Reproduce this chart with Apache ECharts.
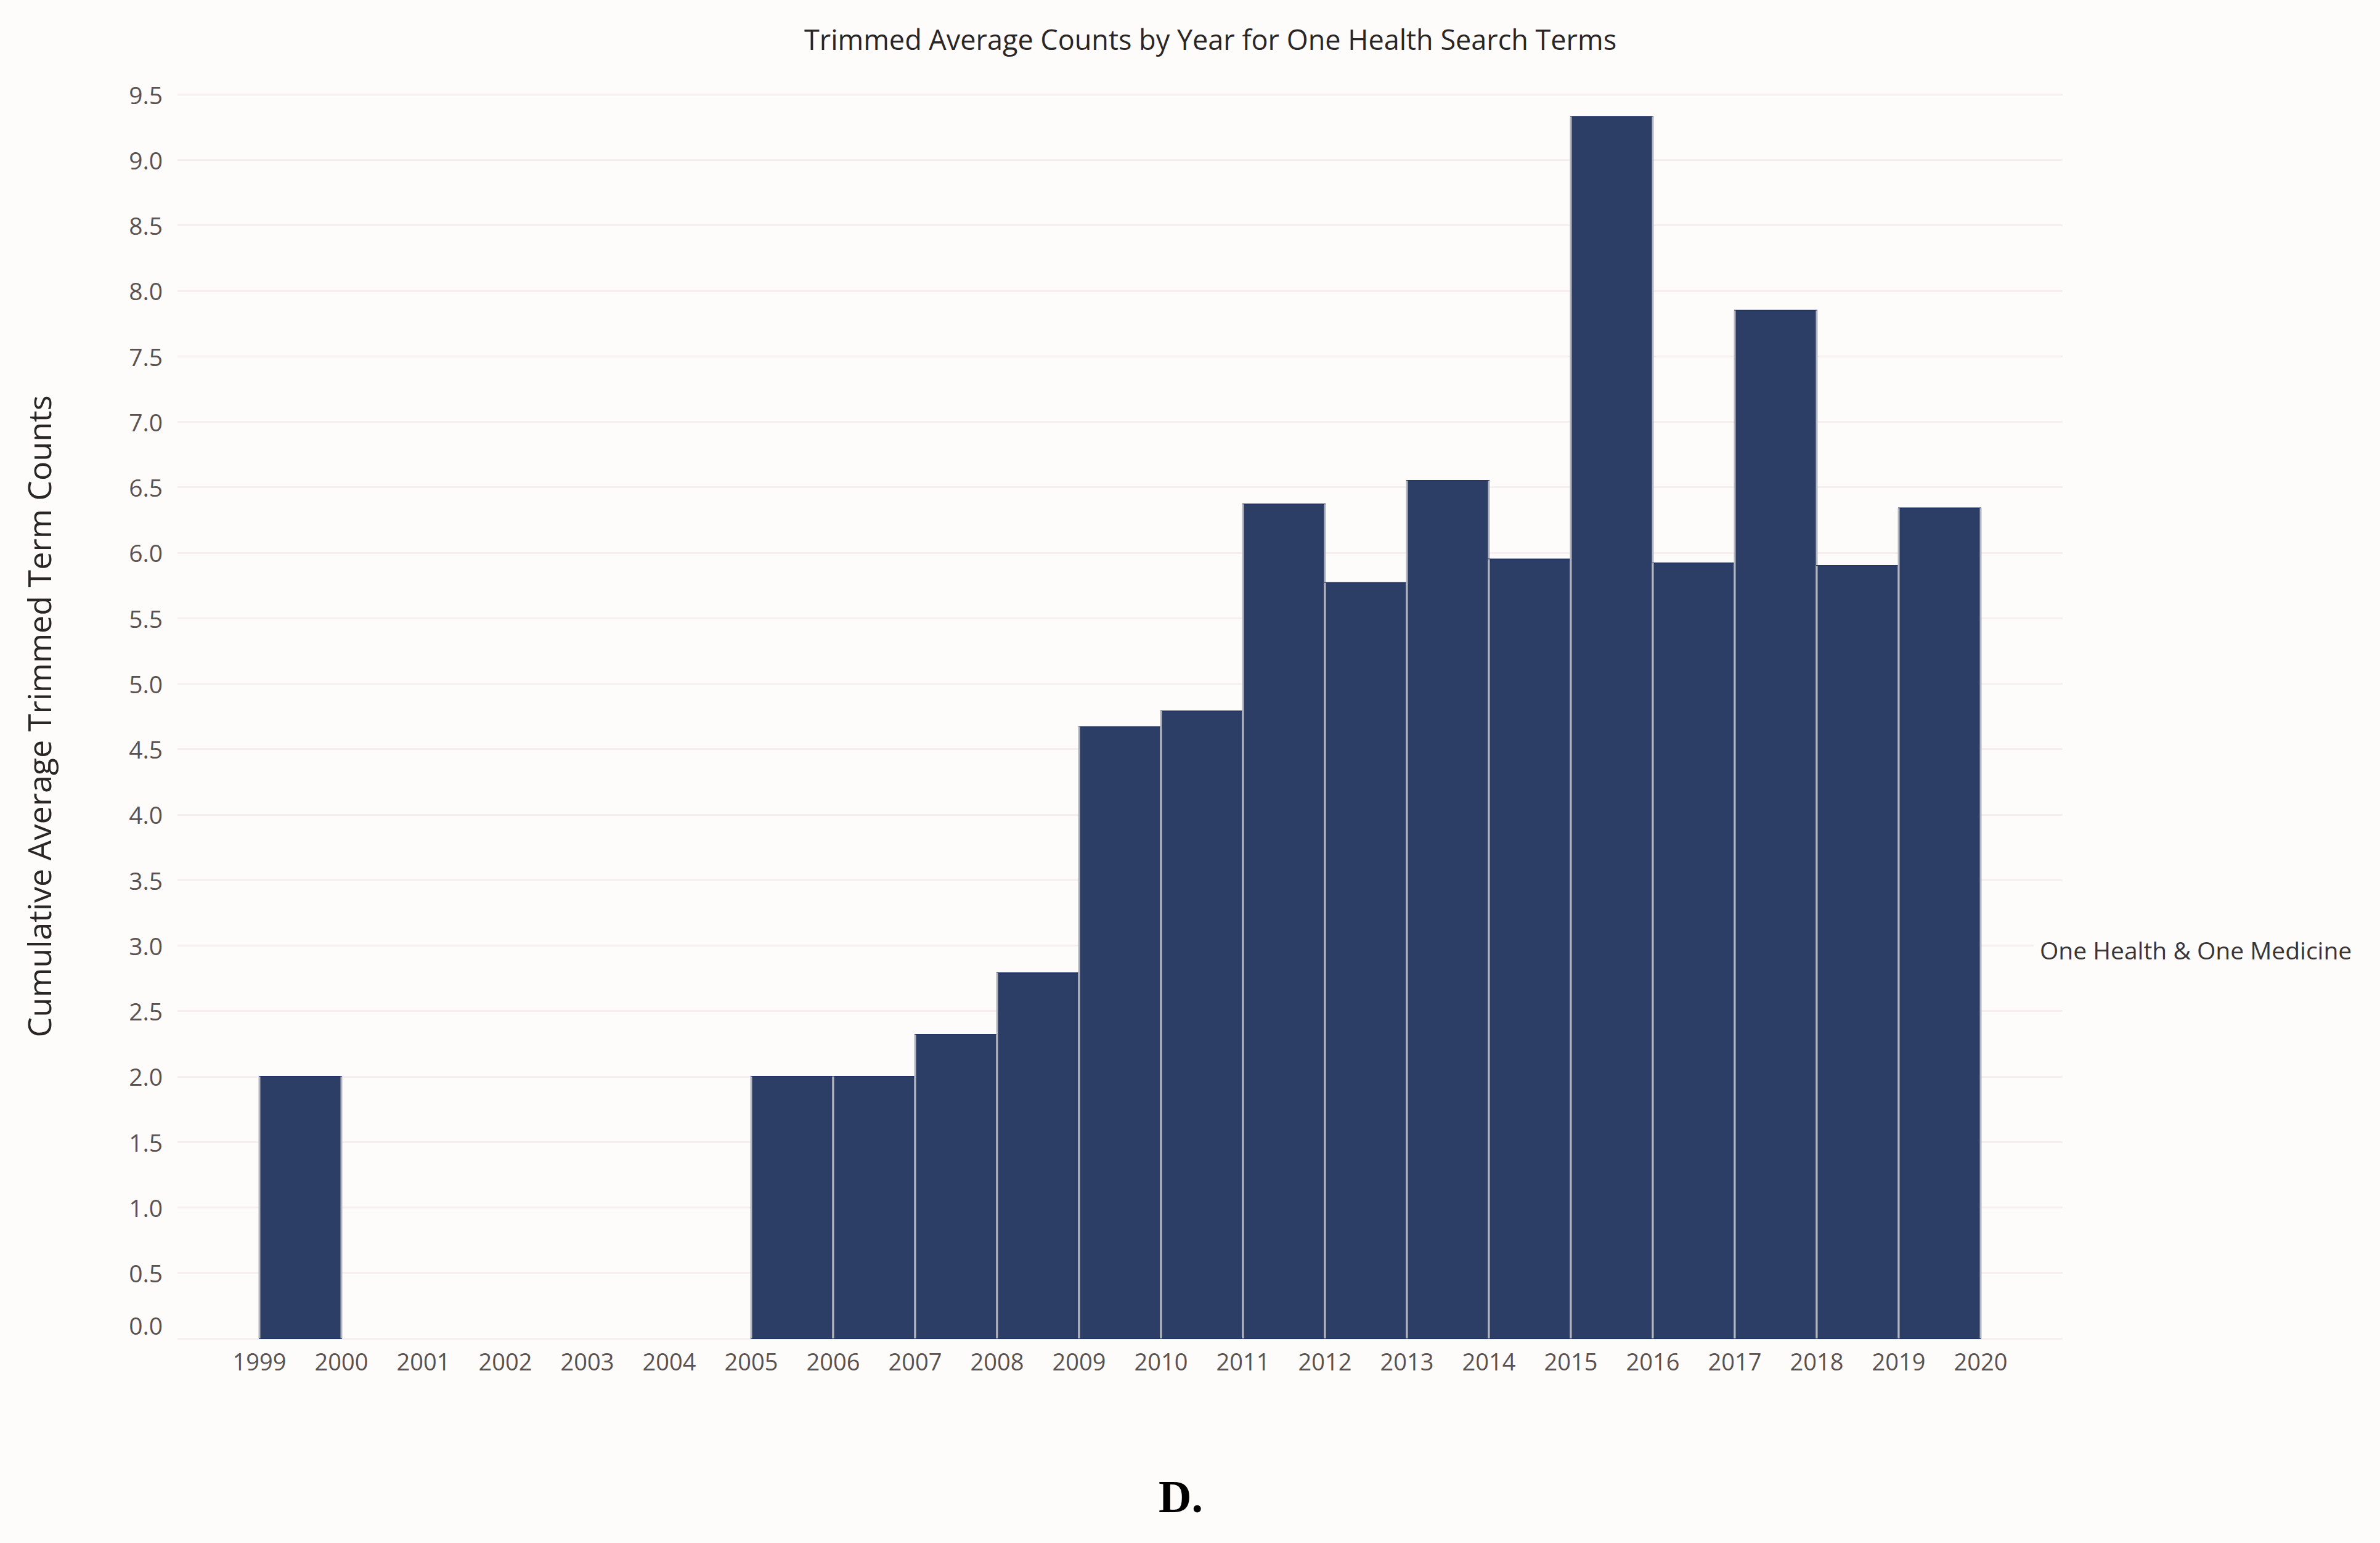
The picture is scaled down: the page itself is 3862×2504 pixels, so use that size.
<!DOCTYPE html>
<html>
<head>
<meta charset="utf-8">
<script src="https://cdn.jsdelivr.net/npm/echarts@6/dist/echarts.min.js"></script>
<style>
html,body{margin:0;padding:0;background:#fdfcfb;}
#chart{width:3862px;height:2504px;}
</style>
</head>
<body>
<div id="chart"></div>
<script>
// ---- data ----
const years  = [1999, 2005, 2006, 2007, 2008, 2009, 2010, 2011, 2012, 2013, 2014, 2015, 2016, 2017, 2018, 2019];
const values = [2.0, 2.0, 2.0, 2.32, 2.79, 4.67, 4.79, 6.37, 5.77, 6.55, 5.95, 9.33, 5.92, 7.85, 5.90, 6.34];
const tickYears = [1999, 2000, 2001, 2002, 2003, 2004, 2005, 2006, 2007, 2008, 2009, 2010, 2011, 2012, 2013, 2014, 2015, 2016, 2017, 2018, 2019, 2020];
const titleText = 'Trimmed Average Counts by Year for One Health Search Terms';
const yTitle = 'Cumulative Average Trimmed Term Counts';
const seriesLabel = 'One Health & One Medicine';
const caption = 'D.';

const chart = echarts.init(document.getElementById('chart'), null, {renderer: 'svg'});

const barData = years.map((y, i) => [y, values[i]]);

chart.setOption({
  backgroundColor: '#fdfcfb',
  animation: false,
  title: {
    text: titleText,
    left: 1300,
    top: 36,
    textStyle: {fontFamily: 'Open Sans', fontWeight: 'normal', fontSize: 45, color: '#2a2626'}
  },
  grid: {left: 288, right: 515, top: 153, bottom: 332},
  xAxis: {
    type: 'value',
    min: 1998, max: 2021, interval: 1,
    axisLine: {show: false},
    axisTick: {show: false},
    splitLine: {show: false},
    axisLabel: {
      margin: 18,
      fontFamily: 'Open Sans', fontSize: 38, color: '#5a5250',
      formatter: v => tickYears.indexOf(v) >= 0 ? String(v) : ''
    }
  },
  yAxis: {
    type: 'value',
    min: 0, max: 9.5, interval: 0.5,
    name: yTitle,
    nameLocation: 'middle',
    nameGap: 200,
    nameTextStyle: {fontFamily: 'Open Sans', fontSize: 52, color: '#2a2626'},
    axisLine: {show: false},
    axisTick: {show: false},
    splitLine: {show: true, lineStyle: {color: '#f6efed', width: 3}},
    axisLabel: {
      margin: 24,
      fontFamily: 'Open Sans', fontSize: 39, color: '#5a5250',
      formatter: v => v === 0 ? '{z|0.0}' : v.toFixed(1),
      rich: {z: {fontFamily: 'Open Sans', fontSize: 39, color: '#5a5250', padding: [0, 0, 44, 0]}}
    }
  },
  graphic: [
    {type: 'text', left: 3300, top: 1518, z: 100,
     style: {text: seriesLabel, fontFamily: 'Open Sans', fontSize: 39, fill: '#3a3535',
             backgroundColor: '#fdfcfb', padding: [4, 10, 4, 10]}},
    {type: 'text', left: 1880, top: 2392,
     style: {text: caption, fontFamily: 'Liberation Serif', fontWeight: 'bold', fontSize: 74, fill: '#000'}}
  ],
  series: [{
    type: 'custom',
    data: barData,
    renderItem: function (params, api) {
      const x = api.value(0), v = api.value(1);
      const p0 = api.coord([x, v]);
      const p1 = api.coord([x + 1, 0]);
      return {
        type: 'group',
        children: [
          {type: 'rect', shape: {x: p0[0], y: p0[1], width: p1[0] - p0[0], height: p1[1] - p0[1]},
           style: {fill: '#2c3e66', stroke: '#233564', lineWidth: 2}},
          {type: 'line', shape: {x1: p0[0], y1: p0[1], x2: p0[0], y2: p1[1]},
           style: {stroke: '#b3b6bf', lineWidth: 3}},
          {type: 'line', shape: {x1: p1[0], y1: p0[1], x2: p1[0], y2: p1[1]},
           style: {stroke: '#b3b6bf', lineWidth: 3}}
        ]
      };
    }
  }]
});
</script>
</body>
</html>
